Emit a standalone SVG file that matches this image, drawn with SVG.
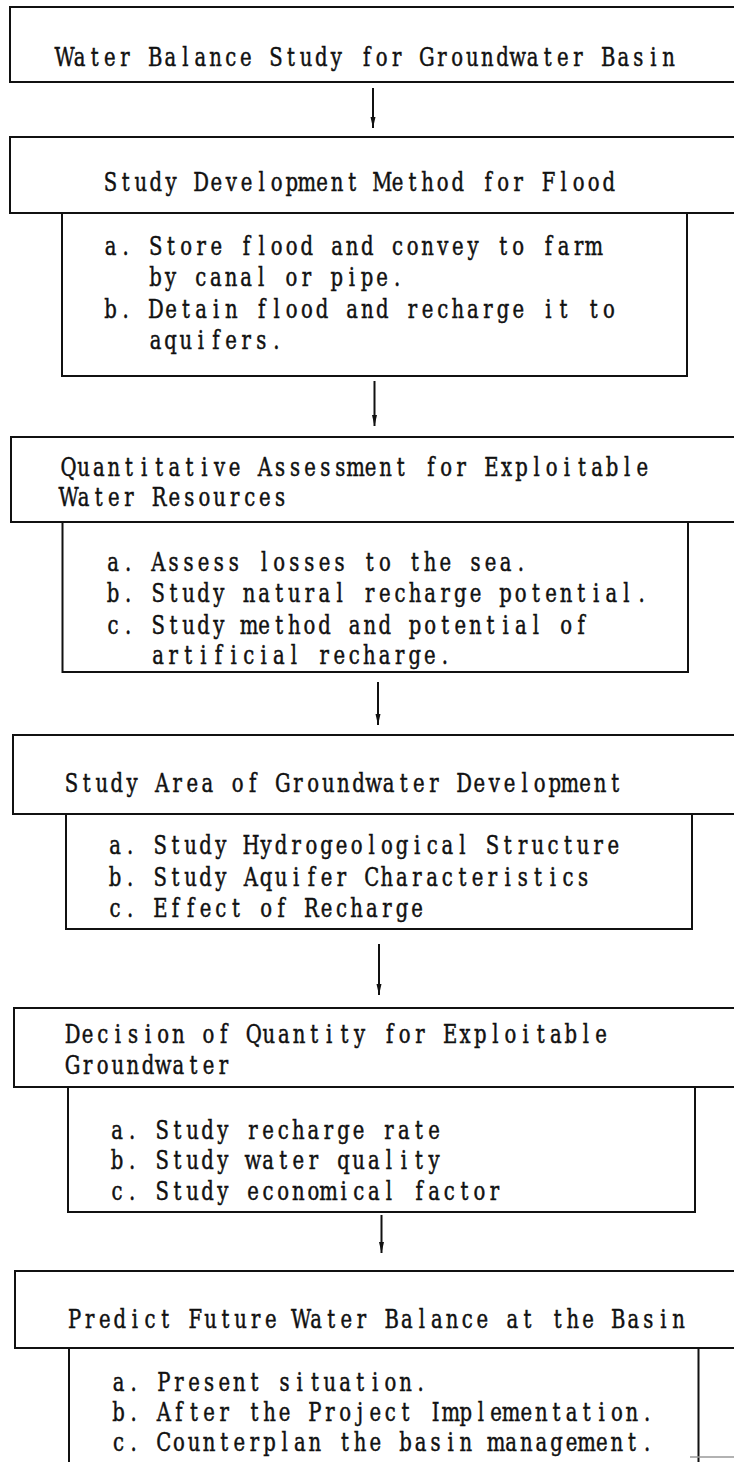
<svg xmlns="http://www.w3.org/2000/svg" width="734" height="1462" viewBox="0 0 734 1462">
<style>
  .box { fill: none; stroke: #111; stroke-width: 2; }
  .t { font-family: "DejaVu Serif", "Liberation Serif", serif; font-size: 26px; fill: #111; stroke: #111; stroke-width: 0.5; text-anchor: middle; }
  .con { stroke: #111; stroke-width: 2; fill: none; }
</style>
<defs>
  <marker id="ah" markerUnits="userSpaceOnUse" markerWidth="12" markerHeight="6" refX="11" refY="2.5" orient="auto">
    <path d="M0,0 L11,2.5 L0,5 z" fill="#111"/>
  </marker>
</defs>
<rect width="734" height="1462" fill="#fff"/>

<g id="n1">
  <path class="box" d="M740,7 L10,7 L10,82 L740,82"/>
  <text class="t" transform="translate(57,66) scale(0.755,1)" x="10 30 50 70 90 110 130 150 170 190 210 230 250 270 290 310 330 350 370 390 410 430 450 470 490 510 530 550 570 590 610 630 650 670 690 710 730 750 770 790 810" y="0">Water Balance Study for Groundwater Basin</text>
</g>

<g id="n2">
  <path class="box" d="M740,137 L10,137 L10,213 L740,213"/>
  <text class="t" transform="translate(103,191) scale(0.755,1)" x="10 30 50 70 90 110 130 150 170 190 210 230 250 270 290 310 330 350 370 390 410 430 450 470 490 510 530 550 570 590 610 630 650 670 690 710 730 750 770 790 810" y="0">Study Development Method for Flood</text>
  <path class="box" d="M62,213 L62,376 L687,376 L687,213"/>
  <text class="t" transform="translate(103,255) scale(0.755,1)" x="10 30 50 70 90 110 130 150 170 190 210 230 250 270 290 310 330 350 370 390 410 430 450 470 490 510 530 550 570 590 610 630 650 670 690 710 730 750 770 790 810" y="0">a. Store flood and convey to farm</text>
  <text class="t" transform="translate(148,286) scale(0.755,1)" x="10 30 50 70 90 110 130 150 170 190 210 230 250 270 290 310 330 350 370 390 410 430 450 470 490 510 530 550 570 590 610 630 650 670 690 710 730 750 770 790 810" y="0">by canal or pipe.</text>
  <text class="t" transform="translate(103,318) scale(0.755,1)" x="10 30 50 70 90 110 130 150 170 190 210 230 250 270 290 310 330 350 370 390 410 430 450 470 490 510 530 550 570 590 610 630 650 670 690 710 730 750 770 790 810" y="0">b. Detain flood and recharge it to</text>
  <text class="t" transform="translate(148,349) scale(0.755,1)" x="10 30 50 70 90 110 130 150 170 190 210 230 250 270 290 310 330 350 370 390 410 430 450 470 490 510 530 550 570 590 610 630 650 670 690 710 730 750 770 790 810" y="0">aquifers.</text>
</g>

<g id="n3">
  <path class="box" d="M740,437 L11,437 L11,522 L740,522"/>
  <text class="t" transform="translate(61,476) scale(0.755,1)" x="10 30 50 70 90 110 130 150 170 190 210 230 250 270 290 310 330 350 370 390 410 430 450 470 490 510 530 550 570 590 610 630 650 670 690 710 730 750 770 790 810" y="0">Quantitative Assessment for Exploitable</text>
  <text class="t" transform="translate(61,506) scale(0.755,1)" x="10 30 50 70 90 110 130 150 170 190 210 230 250 270 290 310 330 350 370 390 410 430 450 470 490 510 530 550 570 590 610 630 650 670 690 710 730 750 770 790 810" y="0">Water Resources</text>
  <path class="box" d="M62.5,522 L62.5,672 L688,672 L688,522"/>
  <text class="t" transform="translate(105.5,571) scale(0.755,1)" x="10 30 50 70 90 110 130 150 170 190 210 230 250 270 290 310 330 350 370 390 410 430 450 470 490 510 530 550 570 590 610 630 650 670 690 710 730 750 770 790 810" y="0">a. Assess losses to the sea.</text>
  <text class="t" transform="translate(105.5,602) scale(0.755,1)" x="10 30 50 70 90 110 130 150 170 190 210 230 250 270 290 310 330 350 370 390 410 430 450 470 490 510 530 550 570 590 610 630 650 670 690 710 730 750 770 790 810" y="0">b. Study natural recharge potential.</text>
  <text class="t" transform="translate(105.5,634) scale(0.755,1)" x="10 30 50 70 90 110 130 150 170 190 210 230 250 270 290 310 330 350 370 390 410 430 450 470 490 510 530 550 570 590 610 630 650 670 690 710 730 750 770 790 810" y="0">c. Study method and potential of</text>
  <text class="t" transform="translate(150.5,664) scale(0.755,1)" x="10 30 50 70 90 110 130 150 170 190 210 230 250 270 290 310 330 350 370 390 410 430 450 470 490 510 530 550 570 590 610 630 650 670 690 710 730 750 770 790 810" y="0">artificial recharge.</text>
</g>

<g id="n4">
  <path class="box" d="M740,735 L13,735 L13,814 L740,814"/>
  <text class="t" transform="translate(64,792) scale(0.755,1)" x="10 30 50 70 90 110 130 150 170 190 210 230 250 270 290 310 330 350 370 390 410 430 450 470 490 510 530 550 570 590 610 630 650 670 690 710 730 750 770 790 810" y="0">Study Area of Groundwater Development</text>
  <path class="box" d="M66,814 L66,929 L692,929 L692,814"/>
  <text class="t" transform="translate(107.5,854) scale(0.755,1)" x="10 30 50 70 90 110 130 150 170 190 210 230 250 270 290 310 330 350 370 390 410 430 450 470 490 510 530 550 570 590 610 630 650 670 690 710 730 750 770 790 810" y="0">a. Study Hydrogeological Structure</text>
  <text class="t" transform="translate(107.5,886) scale(0.755,1)" x="10 30 50 70 90 110 130 150 170 190 210 230 250 270 290 310 330 350 370 390 410 430 450 470 490 510 530 550 570 590 610 630 650 670 690 710 730 750 770 790 810" y="0">b. Study Aquifer Characteristics</text>
  <text class="t" transform="translate(107.5,917) scale(0.755,1)" x="10 30 50 70 90 110 130 150 170 190 210 230 250 270 290 310 330 350 370 390 410 430 450 470 490 510 530 550 570 590 610 630 650 670 690 710 730 750 770 790 810" y="0">c. Effect of Recharge</text>
</g>

<g id="n5">
  <path class="box" d="M740,1008 L14,1008 L14,1087 L740,1087"/>
  <text class="t" transform="translate(65,1043) scale(0.755,1)" x="10 30 50 70 90 110 130 150 170 190 210 230 250 270 290 310 330 350 370 390 410 430 450 470 490 510 530 550 570 590 610 630 650 670 690 710 730 750 770 790 810" y="0">Decision of Quantity for Exploitable</text>
  <text class="t" transform="translate(65,1074) scale(0.755,1)" x="10 30 50 70 90 110 130 150 170 190 210 230 250 270 290 310 330 350 370 390 410 430 450 470 490 510 530 550 570 590 610 630 650 670 690 710 730 750 770 790 810" y="0">Groundwater</text>
  <path class="box" d="M68,1087 L68,1212 L695,1212 L695,1087"/>
  <text class="t" transform="translate(109.5,1139) scale(0.755,1)" x="10 30 50 70 90 110 130 150 170 190 210 230 250 270 290 310 330 350 370 390 410 430 450 470 490 510 530 550 570 590 610 630 650 670 690 710 730 750 770 790 810" y="0">a. Study recharge rate</text>
  <text class="t" transform="translate(109.5,1169) scale(0.755,1)" x="10 30 50 70 90 110 130 150 170 190 210 230 250 270 290 310 330 350 370 390 410 430 450 470 490 510 530 550 570 590 610 630 650 670 690 710 730 750 770 790 810" y="0">b. Study water quality</text>
  <text class="t" transform="translate(109.5,1200) scale(0.755,1)" x="10 30 50 70 90 110 130 150 170 190 210 230 250 270 290 310 330 350 370 390 410 430 450 470 490 510 530 550 570 590 610 630 650 670 690 710 730 750 770 790 810" y="0">c. Study economical factor</text>
</g>

<g id="n6">
  <path class="box" d="M740,1271 L15,1271 L15,1348 L740,1348"/>
  <text class="t" transform="translate(67,1328) scale(0.755,1)" x="10 30 50 70 90 110 130 150 170 190 210 230 250 270 290 310 330 350 370 390 410 430 450 470 490 510 530 550 570 590 610 630 650 670 690 710 730 750 770 790 810" y="0">Predict Future Water Balance at the Basin</text>
  <path class="box" d="M69,1348 L69,1470 M698.5,1348 L698.5,1470"/>
  <text class="t" transform="translate(111,1391) scale(0.755,1)" x="10 30 50 70 90 110 130 150 170 190 210 230 250 270 290 310 330 350 370 390 410 430 450 470 490 510 530 550 570 590 610 630 650 670 690 710 730 750 770 790 810" y="0">a. Present situation.</text>
  <text class="t" transform="translate(111,1421) scale(0.755,1)" x="10 30 50 70 90 110 130 150 170 190 210 230 250 270 290 310 330 350 370 390 410 430 450 470 490 510 530 550 570 590 610 630 650 670 690 710 730 750 770 790 810" y="0">b. After the Project Implementation.</text>
  <text class="t" transform="translate(111,1451) scale(0.755,1)" x="10 30 50 70 90 110 130 150 170 190 210 230 250 270 290 310 330 350 370 390 410 430 450 470 490 510 530 550 570 590 610 630 650 670 690 710 730 750 770 790 810" y="0">c. Counterplan the basin management.</text>
  <line x1="690" y1="1457" x2="734" y2="1457" stroke="#999" stroke-width="1.5"/>
</g>

<g id="connectors">
  <line class="con" x1="373" y1="88" x2="373" y2="128" marker-end="url(#ah)"/>
  <line class="con" x1="374.5" y1="381" x2="374.5" y2="426" marker-end="url(#ah)"/>
  <line class="con" x1="378" y1="682" x2="378" y2="725" marker-end="url(#ah)"/>
  <line class="con" x1="379" y1="944" x2="379" y2="995" marker-end="url(#ah)"/>
  <line class="con" x1="381.5" y1="1215" x2="381.5" y2="1253" marker-end="url(#ah)"/>
</g>
</svg>
